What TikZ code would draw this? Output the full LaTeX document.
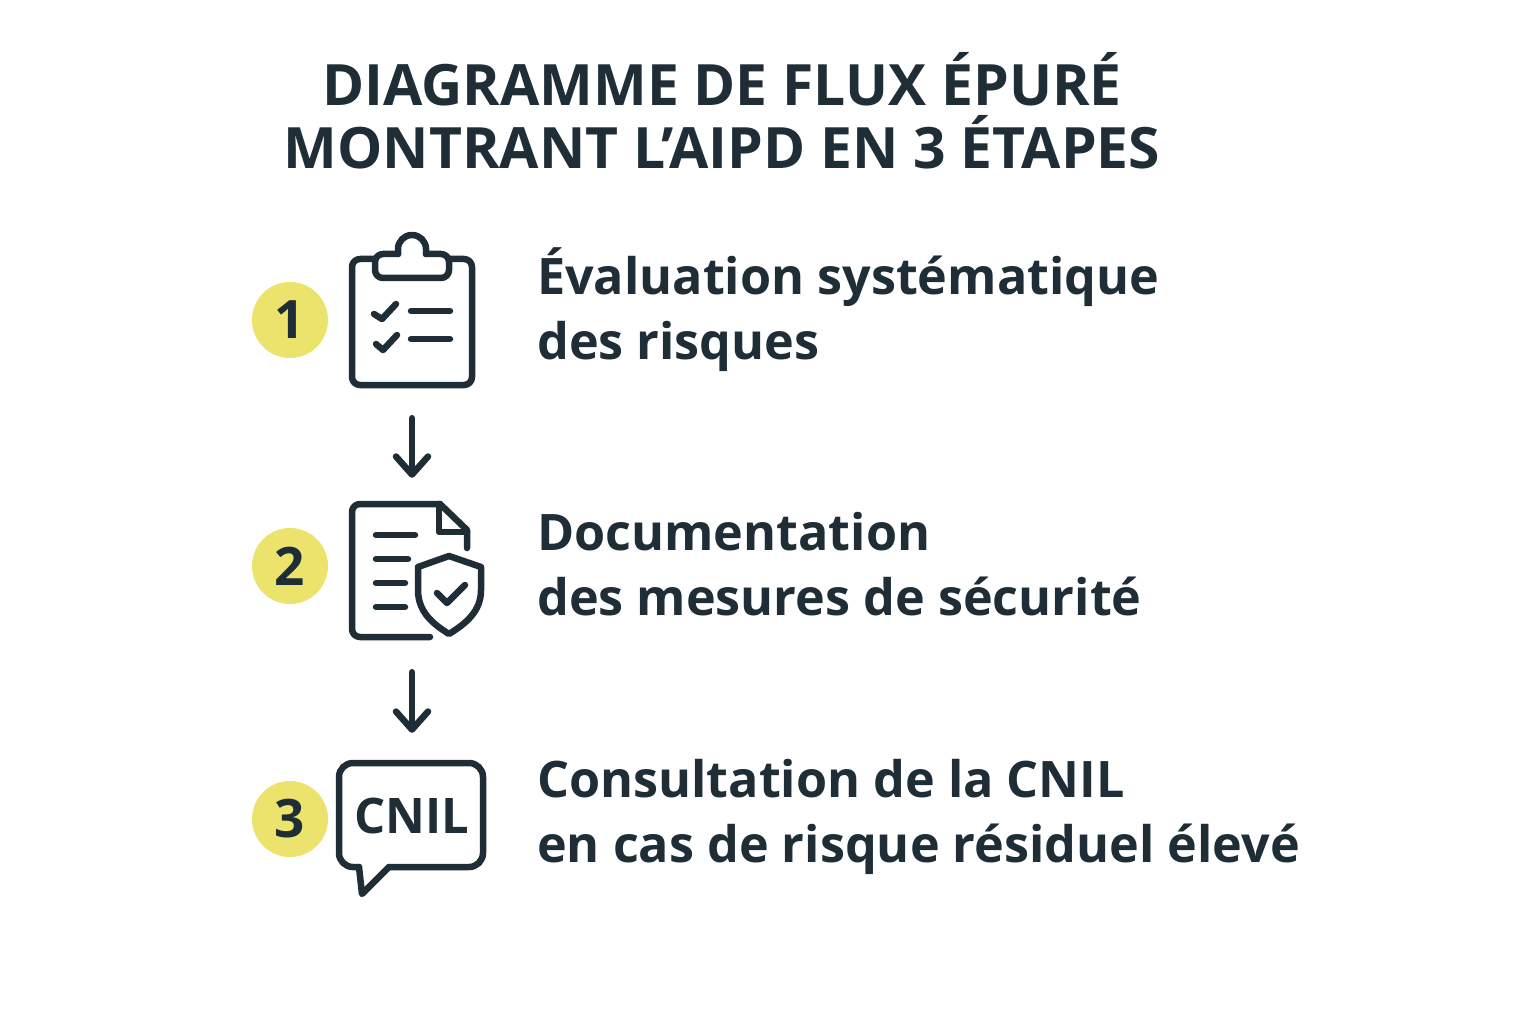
\documentclass[tikz,border=0pt]{standalone}
\usepackage{fontspec}
\setmainfont{Open Sans}
\usetikzlibrary{arrows.meta}
\definecolor{ink}{HTML}{1F2D36}
\definecolor{badge}{HTML}{ECE36C}
\tikzset{
    icon/.style={draw=ink, line width=6.5pt, line cap=round, line join=round},
    num/.style={circle, fill=badge, text=ink, minimum size=76pt, inner sep=0pt, font=\fontsize{53}{53}\selectfont\bfseries},
    lbl/.style={anchor=west, align=left, inner sep=0pt, text=ink, font=\fontsize{50.3}{65}\selectfont\bfseries},
    box/.style={inner sep=0pt},
    flow/.style={ink, line width=6.5pt, line cap=round, -{Straight Barb[length=18pt,width=32pt,round]}}
}
\begin{document}
\begin{tikzpicture}[x=1pt,y=-1pt]
    \useasboundingbox (0,0) rectangle (1536,1024);

    \node[align=center, inner sep=0pt, text=ink, font=\fontsize{57}{63}\selectfont\bfseries] (title) at (722,111) {DIAGRAMME DE FLUX ÉPURÉ\\MONTRANT L’AIPD EN 3 ÉTAPES};

    \node[num] (numa) at (290,320) {1};
    \node[num] (numb) at (290,566) {2};
    \node[num] (numc) at (290,819) {3};

    \node[lbl] (lbla) at (537,309.5) {Évaluation systématique\\des risques};
    \node[lbl] (lblb) at (537,564) {Documentation\\des mesures de sécurité};
    \node[lbl] (lblc) at (537,816.5) {Consultation de la CNIL\\en cas de risque résiduel élevé};

    \node[box, minimum width=125pt, minimum height=153pt] (clip) at (412,310.5) {};
    \node[box, minimum width=125pt, minimum height=137pt] (doc) at (412,570.5) {};
    \node[box, minimum width=149pt, minimum height=136pt] (cnil) at (412,828) {};

    \draw[icon, rounded corners=8pt] (375,259) -- (352,259) -- (352,385) -- (472,385) -- (472,259) -- (449,259);
    \draw[icon] (398,254) -- (398,249) arc[start angle=180, end angle=360, radius=14] -- (426,254);
    \draw[icon, rounded corners=8pt] (398,254) -- (375,254) -- (375,278) -- (449,278) -- (449,254) -- (426,254);
    \draw[icon] (374,314) -- (382,319) -- (396,304);
    \draw[icon] (376,344) -- (383,350) -- (397,335);
    \draw[icon] (411,311) -- (450,311);
    \draw[icon] (411,339) -- (450,339);

    \draw[icon, rounded corners=8pt] (430,637) -- (352,637) -- (352,504) -- (440,504);
    \draw[icon] (440,504) -- (467,530) -- (467,548);
    \draw[icon] (439,504) -- (439,532) -- (467,532);
    \draw[icon] (376,535) -- (415,535);
    \draw[icon] (376,559) -- (408,559);
    \draw[icon] (376,583) -- (405,583);
    \draw[icon] (376,607) -- (405,607);
    \draw[icon] (449,556) -- (481,567) -- (481,590) .. controls (481,612) and (465,624) .. (449,634) .. controls (433,624) and (418,612) .. (418,590) -- (418,567) -- cycle;
    \draw[icon] (437,593) -- (447,603) -- (465,585);

    \draw[icon, rounded corners=14pt] (359,867) -- (339,867) -- (339,763) -- (483,763) -- (483,867) -- (389,867);
    \draw[icon] (359,867) -- (362,894) -- (389,867);
    \node[box, text=ink, font=\fontsize{49}{49}\selectfont\bfseries] (cniltxt) at (412,816) {CNIL};

    \draw[flow, shorten <=31pt, shorten >=24pt] (clip) to (doc);
    \draw[flow, shorten <=33pt, shorten >=27pt] (doc) to (cnil);
\end{tikzpicture}
\end{document}
